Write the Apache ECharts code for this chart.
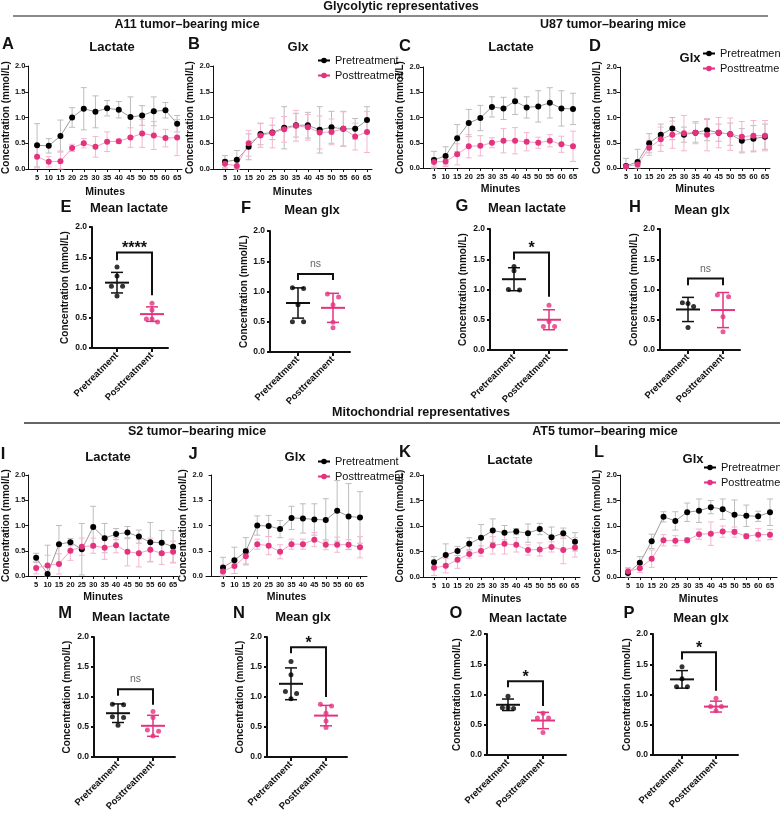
<!DOCTYPE html>
<html><head><meta charset="utf-8">
<script src="https://cdn.jsdelivr.net/npm/echarts@6/dist/echarts.min.js"></script>
<style>html,body{margin:0;padding:0;background:#fff}#c{width:780px;height:816px}</style>
</head><body><div id="c"></div>
<script>
// ---------- data ----------
const minutes = [5,10,15,20,25,30,35,40,45,50,55,60,65];
const yTicks = [0,0.5,1,1.5,2];
const groups = ['Pretreatment','Posttreatment'];

// A  A11 lactate
const A_pre    = [0.46,0.45,0.64,1.00,1.17,1.11,1.18,1.15,1.01,1.04,1.12,1.14,0.88];
const A_preSD  = [0.42,0.14,0.31,0.19,0.41,0.31,0.15,0.16,0.39,0.19,0.28,0.15,0.16];
const A_post   = [0.24,0.14,0.15,0.41,0.50,0.43,0.53,0.54,0.61,0.69,0.65,0.60,0.61];
const A_postSD = [0.22,0.10,0.20,0.07,0.09,0.20,0.19,0.04,0.19,0.27,0.27,0.17,0.35];
// B  A11 glx
const B_pre    = [0.14,0.18,0.43,0.68,0.71,0.80,0.85,0.85,0.76,0.81,0.78,0.78,0.95];
const B_preSD  = [0.12,0.18,0.25,0.21,0.14,0.41,0.23,0.25,0.45,0.31,0.34,0.20,0.26];
const B_post   = [0.10,0.06,0.50,0.65,0.70,0.77,0.84,0.81,0.71,0.72,0.78,0.63,0.72];
const B_postSD = [0.08,0.10,0.25,0.23,0.29,0.25,0.30,0.25,0.32,0.25,0.33,0.26,0.40];
// C  U87 lactate
const C_pre    = [0.16,0.24,0.59,0.89,0.99,1.21,1.18,1.32,1.20,1.22,1.29,1.18,1.17];
const C_preSD  = [0.17,0.18,0.27,0.27,0.25,0.20,0.22,0.26,0.21,0.31,0.30,0.35,0.31];
const C_post   = [0.12,0.13,0.27,0.43,0.44,0.50,0.54,0.54,0.52,0.50,0.54,0.47,0.43];
const C_postSD = [0.08,0.10,0.21,0.23,0.20,0.10,0.24,0.26,0.18,0.11,0.12,0.16,0.30];
// D  U87 glx
const D_pre    = [0.04,0.12,0.49,0.66,0.78,0.66,0.70,0.75,0.70,0.67,0.54,0.58,0.62];
const D_preSD  = [0.15,0.25,0.19,0.21,0.22,0.15,0.19,0.21,0.17,0.22,0.24,0.26,0.25];
const D_post   = [0.03,0.07,0.40,0.57,0.66,0.69,0.70,0.66,0.70,0.67,0.62,0.64,0.64];
const D_postSD = [0.03,0.05,0.15,0.24,0.27,0.35,0.22,0.32,0.30,0.32,0.30,0.30,0.30];
// I  S2 lactate
const I_pre    = [0.36,0.04,0.63,0.67,0.53,0.97,0.75,0.83,0.86,0.78,0.67,0.66,0.58];
const I_preSD  = [0.09,0.57,0.37,0.07,0.51,0.41,0.29,0.11,0.12,0.13,0.39,0.24,0.32];
const I_post   = [0.16,0.21,0.24,0.50,0.58,0.60,0.56,0.61,0.48,0.45,0.52,0.45,0.48];
const I_postSD = [0.12,0.20,0.20,0.19,0.17,0.15,0.23,0.15,0.28,0.27,0.23,0.22,0.21];
// J  S2 glx
const J_pre    = [0.17,0.31,0.49,1.00,0.99,0.93,1.15,1.14,1.12,1.11,1.29,1.18,1.16];
const J_preSD  = [0.20,0.26,0.27,0.19,0.21,0.17,0.23,0.29,0.31,0.42,0.60,0.65,0.51];
const J_post   = [0.09,0.20,0.39,0.63,0.60,0.48,0.63,0.63,0.72,0.62,0.62,0.62,0.57];
const J_postSD = [0.05,0.15,0.15,0.10,0.18,0.14,0.10,0.10,0.14,0.10,0.15,0.10,0.21];
// K  AT5 lactate
const K_pre    = [0.29,0.43,0.51,0.65,0.77,0.91,0.87,0.89,0.86,0.94,0.78,0.86,0.69];
const K_preSD  = [0.11,0.22,0.09,0.12,0.26,0.23,0.14,0.06,0.18,0.11,0.20,0.10,0.18];
const K_post   = [0.18,0.22,0.34,0.45,0.51,0.62,0.65,0.63,0.53,0.54,0.59,0.53,0.58];
const K_postSD = [0.15,0.14,0.17,0.08,0.10,0.17,0.20,0.14,0.10,0.13,0.10,0.27,0.19];
// L  AT5 glx
const L_pre    = [0.08,0.28,0.70,1.18,1.10,1.27,1.30,1.37,1.33,1.22,1.20,1.19,1.27];
const L_preSD  = [0.10,0.12,0.14,0.10,0.18,0.18,0.23,0.13,0.20,0.29,0.21,0.10,0.26];
const L_post   = [0.11,0.17,0.36,0.72,0.71,0.72,0.84,0.85,0.89,0.88,0.80,0.83,0.83];
const L_postSD = [0.06,0.08,0.17,0.11,0.10,0.05,0.10,0.23,0.11,0.10,0.05,0.12,0.10];

// Mean panels: individual animals, mean, SD, significance [label, bracketTop, leftLegEnd, rightLegEnd]
const E_pre = [1.34,1.19,1.02,1.02,0.86];  const E_post = [0.74,0.63,0.48,0.48,0.43];
const E_mean = [1.08,0.56]; const E_sd = [0.17,0.12]; const E_sig = ['****',1.58,1.45,0.87];
const F_pre = [1.06,1.05,0.78,0.50,0.50];  const F_post = [0.96,0.91,0.78,0.49,0.40];
const F_mean = [0.81,0.73]; const F_sd = [0.25,0.24]; const F_sig = ['ns',1.29,1.19,1.19];
const G_pre = [1.38,1.31,1.00,0.99];       const G_post = [0.74,0.47,0.39,0.39];
const G_mean = [1.17,0.50]; const G_sd = [0.19,0.165]; const G_sig = ['*',1.61,1.49,0.88];
const H_pre = [0.78,0.77,0.72,0.37];       const H_post = [0.91,0.88,0.55,0.30];
const H_mean = [0.67,0.66]; const H_sd = [0.20,0.29]; const H_sig = ['ns',1.18,1.07,1.07];
const M_pre = [0.88,0.87,0.67,0.66,0.53];  const M_post = [0.76,0.66,0.45,0.43,0.35];
const M_mean = [0.73,0.52]; const M_sd = [0.155,0.175]; const M_sig = ['ns',1.13,1.02,0.87];
const N_pre = [1.59,1.37,1.09,1.06,0.97];  const N_post = [0.88,0.85,0.73,0.60,0.49];
const N_mean = [1.22,0.69]; const N_sd = [0.265,0.17]; const N_sig = ['*',1.83,1.73,1.00];
const O_pre = [0.97,0.78,0.78,0.77];       const O_post = [0.69,0.61,0.61,0.37];
const O_mean = [0.83,0.57]; const O_sd = [0.095,0.135]; const O_sig = ['*',1.22,1.12,0.81];
const P_pre = [1.46,1.26,1.13,1.13];       const P_post = [0.94,0.80,0.80,0.73];
const P_mean = [1.25,0.80]; const P_sd = [0.145,0.09]; const P_sig = ['*',1.70,1.58,1.06];

// ---------- style / layout ----------
const FONT = '"Liberation Sans", Arial, Helvetica, sans-serif';
const PINK = '#e3337f', PINK_LINE = '#f2a3c4', PINK_ERR = '#f5b6cf';
const GRAY_LINE = '#9a9a9a', GRAY_ERR = '#bdbdbd';
const YNAME = 'Concentration (mmol/L)';

const grids = [], xAxes = [], yAxes = [], series = [], legends = [];

function errSeries(gi, mean, sd, color) {
  return {
    type: 'custom', xAxisIndex: gi, yAxisIndex: gi, z: 1, silent: true,
    data: minutes.map((t, i) => [t, mean[i], sd[i]]),
    encode: { x: 0, y: 1 },
    renderItem: function (params, api) {
      const x = api.value(0), m = api.value(1), s = api.value(2);
      const top = api.coord([x, m + s]);
      const bot = api.coord([x, Math.max(0, m - s)]);
      const cw = 3;
      const st = { stroke: color, lineWidth: 1 };
      return { type: 'group', children: [
        { type: 'line', shape: { x1: top[0], y1: top[1], x2: bot[0], y2: bot[1] }, style: st },
        { type: 'line', shape: { x1: top[0] - cw, y1: top[1], x2: top[0] + cw, y2: top[1] }, style: st },
        { type: 'line', shape: { x1: bot[0] - cw, y1: bot[1], x2: bot[0] + cw, y2: bot[1] }, style: st }
      ]};
    }
  };
}

function yAxisCommon(gi, L, labelSize, lineW) {
  return {
    gridIndex: gi, type: 'value', min: yTicks[0], max: yTicks[yTicks.length - 1], interval: 0.5,
    axisLine: { show: true, lineStyle: { color: '#111', width: lineW } },
    axisTick: { show: true, length: 3, lineStyle: { color: '#111', width: lineW } },
    axisLabel: { fontSize: labelSize, fontWeight: 'bold', color: '#111', fontFamily: FONT, margin: L.lm,
                 formatter: v => v.toFixed(1) },
    splitLine: { show: false },
    name: YNAME, nameLocation: 'middle', nameGap: L.gap - 0.5,
    nameTextStyle: { fontSize: 10, fontWeight: 'bold', color: '#111', fontFamily: FONT }
  };
}

function addLinePanel(pre, preSD, post, postSD, L) {
  const gi = grids.length;
  const t0 = minutes[0], t1 = minutes[minutes.length - 1];
  const ppu = (L.t65 - L.t5) / (t1 - t0);
  const xmin = t0 - (L.t5 - L.axis) / ppu;
  const xmax = t1 + (L.end - L.t65) / ppu;
  grids.push({ left: L.axis, top: L.top, width: L.end - L.axis, height: L.bot - L.top });
  xAxes.push({
    gridIndex: gi, type: 'value', min: xmin, max: xmax,
    axisLine: { show: true, onZero: false, lineStyle: { color: '#111', width: 1 } },
    axisTick: { show: true, length: 3, customValues: minutes, lineStyle: { color: '#111' } },
    axisLabel: { customValues: minutes, fontSize: 7.5, fontWeight: 'bold', color: '#111', fontFamily: FONT, margin: 5 },
    splitLine: { show: false },
    name: 'Minutes', nameLocation: 'middle', nameGap: L.mgap,
    nameTextStyle: { fontSize: 10.5, fontWeight: 'bold', color: '#111', fontFamily: FONT }
  });
  yAxes.push(yAxisCommon(gi, Object.assign({ lm: 3 }, L), 7.5, 1));
  series.push(errSeries(gi, pre, preSD, GRAY_ERR));
  series.push(errSeries(gi, post, postSD, PINK_ERR));
  series.push({
    type: 'line', name: groups[0], xAxisIndex: gi, yAxisIndex: gi, z: 3,
    data: minutes.map((t, i) => [t, pre[i]]),
    symbol: 'circle', symbolSize: 6, itemStyle: { color: '#000' },
    lineStyle: { color: GRAY_LINE, width: 1 }
  });
  series.push({
    type: 'line', name: groups[1], xAxisIndex: gi, yAxisIndex: gi, z: 3,
    data: minutes.map((t, i) => [t, post[i]]),
    symbol: 'circle', symbolSize: 6, itemStyle: { color: PINK },
    lineStyle: { color: PINK_LINE, width: 1 }
  });
  if (L.leg) {
    legends.push({
      orient: 'vertical', left: L.leg[0], top: L.leg[1] - 5, padding: 0,
      itemWidth: 12, itemHeight: 7, itemGap: 4, selectedMode: false,
      data: [
        { name: groups[0], itemStyle: { color: '#000' }, lineStyle: { color: '#000' } },
        { name: groups[1], itemStyle: { color: PINK }, lineStyle: { color: PINK } }
      ],
      textStyle: { fontSize: 11, color: '#111', fontFamily: FONT, lineHeight: 11 }
    });
  }
}

function jitter(vals) {
  // spread points whose values lie close to each other
  const idx = vals.map((v, i) => i).sort((a, b) => vals[b] - vals[a]);
  const off = new Array(vals.length).fill(0);
  let i = 0;
  while (i < idx.length) {
    let j = i;
    while (j + 1 < idx.length && Math.abs(vals[idx[j + 1]] - vals[idx[j]]) < 0.06) j++;
    const k = j - i + 1;
    for (let q = 0; q < k; q++) off[idx[i + q]] = k === 1 ? 0 : (-0.16 + 0.32 * q / (k - 1));
    i = j + 1;
  }
  return off;
}

function addDotPanel(pre, post, mean, sd, sig, L) {
  const gi = grids.length;
  const u = L.c2 - L.c1;
  const xmin = 1 - (L.c1 - L.axis) / u, xmax = 2 + (L.end - L.c2) / u;
  grids.push({ left: L.axis, top: L.top, width: L.end - L.axis, height: L.bot - L.top });
  xAxes.push({
    gridIndex: gi, type: 'value', min: xmin, max: xmax,
    axisLine: { show: true, onZero: false, lineStyle: { color: '#111', width: 2 } },
    axisTick: { show: true, length: 4, customValues: [1, 2], lineStyle: { color: '#111', width: 2 } },
    axisLabel: { customValues: [1, 2], formatter: v => groups[Math.round(v) - 1], rotate: 45,
                 fontSize: 9.5, fontWeight: 'bold', color: '#111', fontFamily: FONT, margin: 6 },
    splitLine: { show: false }
  });
  yAxes.push(yAxisCommon(gi, Object.assign({ lm: 5 }, L), 8.5, 2));
  const jp = jitter(pre), jq = jitter(post);
  series.push({
    type: 'custom', xAxisIndex: gi, yAxisIndex: gi, z: 2, silent: true,
    data: [[1, mean[0], sd[0]], [2, mean[1], sd[1]]], encode: { x: 0, y: 1 },
    renderItem: function (params, api) {
      const x = api.value(0), m = api.value(1), s = api.value(2);
      const c = params.dataIndex === 0 ? '#111' : PINK;
      const pm = api.coord([x, m]), pt = api.coord([x, m + s]), pb = api.coord([x, m - s]);
      return { type: 'group', children: [
        { type: 'line', shape: { x1: pm[0] - 12, y1: pm[1], x2: pm[0] + 12, y2: pm[1] }, style: { stroke: c, lineWidth: 2 } },
        { type: 'line', shape: { x1: pt[0], y1: pt[1], x2: pb[0], y2: pb[1] }, style: { stroke: c, lineWidth: 1.5 } },
        { type: 'line', shape: { x1: pt[0] - 6, y1: pt[1], x2: pt[0] + 6, y2: pt[1] }, style: { stroke: c, lineWidth: 1.5 } },
        { type: 'line', shape: { x1: pb[0] - 6, y1: pb[1], x2: pb[0] + 6, y2: pb[1] }, style: { stroke: c, lineWidth: 1.5 } }
      ]};
    }
  });
  series.push({
    type: 'scatter', xAxisIndex: gi, yAxisIndex: gi, z: 3, symbolSize: 5,
    itemStyle: { color: '#000' }, data: pre.map((v, i) => [1 + jp[i], v])
  });
  series.push({
    type: 'scatter', xAxisIndex: gi, yAxisIndex: gi, z: 3, symbolSize: 5,
    itemStyle: { color: PINK }, data: post.map((v, i) => [2 + jq[i], v])
  });
  const isNs = sig[0] === 'ns';
  series.push({
    type: 'custom', xAxisIndex: gi, yAxisIndex: gi, z: 4, silent: true,
    data: [[1, 2, sig[1], sig[2], sig[3]]], encode: { x: 0, y: 2 },
    renderItem: function (params, api) {
      const a = api.coord([api.value(0), api.value(3)]);
      const b = api.coord([api.value(0), api.value(2)]);
      const c = api.coord([api.value(1), api.value(2)]);
      const d = api.coord([api.value(1), api.value(4)]);
      return { type: 'group', children: [
        { type: 'polyline', shape: { points: [a, b, c, d] }, style: { stroke: '#111', lineWidth: 2, fill: 'none' } },
        { type: 'text', x: (b[0] + c[0]) / 2, y: b[1] - (isNs ? 10 : 4),
          style: { text: sig[0], fill: isNs ? '#666' : '#111',
                   font: isNs ? ('10.5px ' + FONT) : ('bold 16px ' + FONT),
                   align: 'center', verticalAlign: 'middle' } }
      ]};
    }
  });
}

// line panels (axis x, tick 5 / 65 px, end, top/bottom px)
addLinePanel(A_pre, A_preSD, A_post, A_postSD, { axis: 24, t5: 33, t65: 177, end: 182, top: 66, bot: 169, gap: 13, mgap: 18 });
addLinePanel(B_pre, B_preSD, B_post, B_postSD, { axis: 213, t5: 225, t65: 367, end: 372, top: 66, bot: 169, gap: 14, mgap: 18, leg: [317, 60] });
addLinePanel(C_pre, C_preSD, C_post, C_postSD, { axis: 423, t5: 434, t65: 573, end: 578, top: 67, bot: 168, gap: 13.5, mgap: 16 });
addLinePanel(D_pre, D_preSD, D_post, D_postSD, { axis: 620, t5: 626, t65: 765, end: 770, top: 67, bot: 168, gap: 18.5, mgap: 16, leg: [702, 53] });
addLinePanel(I_pre, I_preSD, I_post, I_postSD, { axis: 25, t5: 33, t65: 173, end: 178, top: 475, bot: 576, gap: 13.5, mgap: 16 });
addLinePanel(J_pre, J_preSD, J_post, J_postSD, { axis: 206, t5: 223, t65: 360, end: 367, top: 475, bot: 576, gap: 9, mgap: 16, leg: [317, 461] });
addLinePanel(K_pre, K_preSD, K_post, K_postSD, { axis: 423, t5: 434, t65: 575, end: 580, top: 475, bot: 577, gap: 14.5, mgap: 17 });
addLinePanel(L_pre, L_preSD, L_post, L_postSD, { axis: 620, t5: 628, t65: 770, end: 777, top: 475, bot: 577, gap: 16.5, mgap: 17, leg: [703, 467] });

// mean panels
addDotPanel(E_pre, E_post, E_mean, E_sd, E_sig, { axis: 92, c1: 117, c2: 152, end: 168, top: 227, bot: 348, gap: 22.5 });
addDotPanel(F_pre, F_post, F_mean, F_sd, F_sig, { axis: 270, c1: 298, c2: 333, end: 350, top: 231, bot: 352, gap: 18 });
addDotPanel(G_pre, G_post, G_mean, G_sd, G_sig, { axis: 490, c1: 514, c2: 549, end: 567, top: 229, bot: 350, gap: 22.5 });
addDotPanel(H_pre, H_post, H_mean, H_sd, H_sig, { axis: 660, c1: 688, c2: 723, end: 740, top: 229, bot: 350, gap: 19.5 });
addDotPanel(M_pre, M_post, M_mean, M_sd, M_sig, { axis: 94, c1: 118, c2: 153, end: 175, top: 637, bot: 757, gap: 22.5 });
addDotPanel(N_pre, N_post, N_mean, N_sd, N_sig, { axis: 267, c1: 291, c2: 326, end: 347, top: 637, bot: 757, gap: 22.5 });
addDotPanel(O_pre, O_post, O_mean, O_sd, O_sig, { axis: 487, c1: 508, c2: 543, end: 566, top: 634, bot: 755, gap: 25 });
addDotPanel(P_pre, P_post, P_mean, P_sd, P_sig, { axis: 653, c1: 682, c2: 716, end: 738, top: 634, bot: 755, gap: 18 });

// ---------- texts ----------
function txt(s, x, y, size, weight) {
  return { type: 'text', x: x, y: y, silent: true,
    style: { text: s, fill: '#111', font: (weight || 'bold') + ' ' + size + 'px ' + FONT, align: 'center', verticalAlign: 'middle' } };
}
const graphics = [
  txt('Glycolytic representatives', 401, 7, 12.5),
  { type: 'line', shape: { x1: 13, y1: 16, x2: 768, y2: 16 }, style: { stroke: '#8a8a8a', lineWidth: 2 }, silent: true },
  txt('A11 tumor\u2013bearing mice', 187, 25, 12.5),
  txt('U87 tumor\u2013bearing mice', 613, 25, 12.5),
  txt('Mitochondrial representatives', 421, 413, 12.5),
  { type: 'line', shape: { x1: 24, y1: 423, x2: 780, y2: 423 }, style: { stroke: '#333', lineWidth: 1.5 }, silent: true },
  txt('S2 tumor\u2013bearing mice', 197, 432, 12.5),
  txt('AT5 tumor\u2013bearing mice', 605, 432, 12.5),
  // panel letters
  txt('A', 8, 44, 16.5), txt('B', 194, 44, 16.5), txt('C', 405, 46, 16.5), txt('D', 595, 46, 16.5),
  txt('E', 66, 207, 16.5), txt('F', 246, 208, 16.5), txt('G', 462, 206, 16.5), txt('H', 635, 207, 16.5),
  txt('I', 3, 454, 16.5), txt('J', 193, 454, 16.5), txt('K', 405, 452, 16.5), txt('L', 599, 452, 16.5),
  txt('M', 65, 613, 16.5), txt('N', 239, 613, 16.5), txt('O', 456, 613, 16.5), txt('P', 629, 613, 16.5),
  // panel titles
  txt('Lactate', 112, 47, 13), txt('Glx', 298, 47, 13), txt('Lactate', 511, 47, 13), txt('Glx', 690, 58, 13),
  txt('Mean lactate', 129, 208, 13), txt('Mean glx', 312, 210, 13), txt('Mean lactate', 527, 208, 13), txt('Mean glx', 702, 210, 13),
  txt('Lactate', 108, 457, 13), txt('Glx', 295, 457, 13), txt('Lactate', 510, 460, 13), txt('Glx', 693, 459, 13),
  txt('Mean lactate', 131, 617, 13), txt('Mean glx', 303, 617, 13), txt('Mean lactate', 528, 618, 13), txt('Mean glx', 701, 618, 13)
];

const chart = echarts.init(document.getElementById('c'), null, { renderer: 'canvas' });
chart.setOption({
  backgroundColor: '#fff',
  animation: false,
  textStyle: { fontFamily: FONT },
  grid: grids, xAxis: xAxes, yAxis: yAxes, series: series, legend: legends,
  graphic: { elements: graphics }
});
</script>
</body></html>
